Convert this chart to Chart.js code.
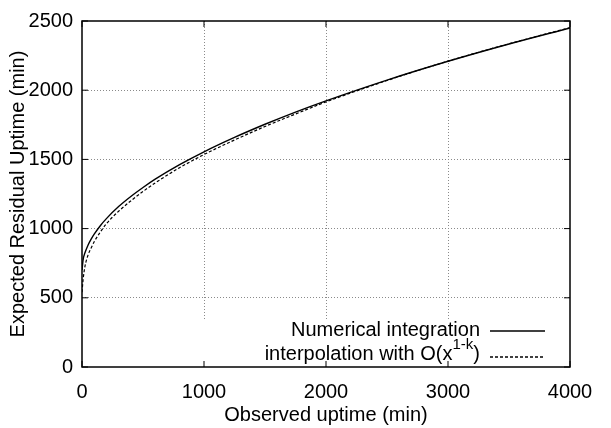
<!DOCTYPE html>
<html>
<head>
<meta charset="utf-8">
<script src="https://cdn.jsdelivr.net/npm/chart.js@4.4.1/dist/chart.umd.min.js"></script>
<style>
  html, body { margin: 0; padding: 0; background: #fff; }
  #wrap { width: 611px; height: 428px; }
</style>
</head>
<body>
<div id="wrap"><canvas id="uptimeChart" width="611" height="428"></canvas></div>
<script>
// observed uptime (min) and expected residual uptime (min) for both curves
const observedUptime = [0, 10, 25, 50, 75, 100, 150, 200, 300, 400, 500, 600, 800, 1000, 1250, 1500, 1750, 2000, 2500, 3000, 3500, 4000];
const numericalIntegration = [700, 779, 827, 882, 924, 960, 1021, 1072, 1159, 1232, 1297, 1357, 1462, 1555, 1659, 1754, 1842, 1923, 2073, 2209, 2334, 2450];
const interpolationFit = [540, 640, 730, 810, 860, 905, 975, 1035, 1125, 1200, 1268, 1330, 1440, 1535, 1640, 1738, 1828, 1915, 2070, 2210, 2335, 2452];

const xRange = [0, 4000];
const yRange = [0, 2500];
const xStep = 1000;
const yStep = 500;

const FONT = "'Liberation Sans', Arial, Helvetica, sans-serif";

function toPoints(xs, ys) {
    return xs.map(function (x, i) { return { x: x, y: ys[i] }; });
}

// gnuplot-style frame: full border, inward ticks, opaque key in the lower right
const framePlugin = {
    id: 'frame',
    beforeDatasetsDraw: function (chart) {
        const ctx = chart.ctx;
        const a = chart.chartArea;
        ctx.save();
        ctx.fillStyle = '#fff';
        ctx.fillRect(190, 321, a.right - 190, a.bottom - 321);
        ctx.restore();
    },
    afterDraw: function (chart) {
        const ctx = chart.ctx;
        const a = chart.chartArea;
        const xs = chart.scales.x;
        const ys = chart.scales.y;
        const tick = 6;

        ctx.save();
        ctx.strokeStyle = '#000';
        ctx.lineWidth = 1.5;
        ctx.strokeRect(a.left, a.top, a.right - a.left, a.bottom - a.top);

        ctx.lineWidth = 1;
        ctx.beginPath();
        xs.ticks.forEach(function (t) {
            const px = xs.getPixelForValue(t.value);
            ctx.moveTo(px, a.bottom); ctx.lineTo(px, a.bottom - tick);
            ctx.moveTo(px, a.top); ctx.lineTo(px, a.top + tick);
        });
        ys.ticks.forEach(function (t) {
            const py = ys.getPixelForValue(t.value);
            ctx.moveTo(a.left, py); ctx.lineTo(a.left + tick, py);
            ctx.moveTo(a.right, py); ctx.lineTo(a.right - tick, py);
        });
        ctx.stroke();

        // key
        const textRight = 480;
        const row1 = 330;
        const row2 = 354;
        ctx.fillStyle = '#000';
        ctx.textBaseline = 'middle';
        ctx.textAlign = 'left';
        ctx.font = '20px ' + FONT;
        const t1 = 'Numerical integration';
        ctx.fillText(t1, textRight - ctx.measureText(t1).width, row1);

        const head = 'interpolation with O(x';
        const tail = ')';
        const sup = '1-k';
        const headW = ctx.measureText(head).width;
        const tailW = ctx.measureText(tail).width;
        ctx.font = '15px ' + FONT;
        const supW = ctx.measureText(sup).width;
        let x = textRight - tailW - supW - headW;
        ctx.font = '20px ' + FONT;
        ctx.fillText(head, x, row2);
        x += headW;
        ctx.font = '15px ' + FONT;
        ctx.fillText(sup, x, row2 - 9);
        x += supW;
        ctx.font = '20px ' + FONT;
        ctx.fillText(tail, x, row2);

        ctx.lineWidth = 1.3;
        ctx.beginPath();
        ctx.moveTo(490, row1 + 1); ctx.lineTo(545, row1 + 1);
        ctx.stroke();
        ctx.setLineDash([3, 2]);
        ctx.beginPath();
        ctx.moveTo(490, row2 + 3); ctx.lineTo(545, row2 + 3);
        ctx.stroke();
        ctx.restore();
    }
};

function hideEdges(ctx) {
    const s = ctx.scale;
    if (ctx.tick && (ctx.tick.value === s.min || ctx.tick.value === s.max)) {
        return 'rgba(0,0,0,0)';
    }
    return '#8a8a8a';
}

function plainNumber(value) {
    return String(value);
}

document.addEventListener('DOMContentLoaded', function () {
    if (typeof Chart === 'undefined') {
        console.error('Chart.js did not load.');
        return;
    }

    Chart.defaults.font.family = FONT;
    Chart.defaults.font.size = 20;
    Chart.defaults.color = '#000';

    new Chart(document.getElementById('uptimeChart'), {
        type: 'scatter',
        data: {
            datasets: [{
                label: 'Numerical integration',
                data: toPoints(observedUptime, numericalIntegration),
                showLine: true,
                borderColor: '#000',
                borderWidth: 1.4,
                pointRadius: 0,
                cubicInterpolationMode: 'monotone'
            }, {
                label: 'interpolation with O(x^{1-k})',
                data: toPoints(observedUptime, interpolationFit),
                showLine: true,
                borderColor: '#000',
                borderWidth: 1.2,
                borderDash: [3, 2],
                pointRadius: 0,
                cubicInterpolationMode: 'monotone'
            }]
        },
        options: {
            responsive: false,
            animation: false,
            layout: { padding: { top: 20, right: 41, left: 0, bottom: 0 } },
            plugins: {
                legend: { display: false },
                tooltip: { enabled: false }
            },
            scales: {
                x: {
                    type: 'linear',
                    min: xRange[0],
                    max: xRange[1],
                    afterFit: function (s) { s.height = 61; },
                    ticks: { stepSize: xStep, padding: 13, maxRotation: 0, callback: plainNumber },
                    grid: { color: hideEdges, lineWidth: 1, drawTicks: false },
                    border: { display: false, dash: [1, 2] },
                    title: {
                        display: true,
                        text: 'Observed uptime (min)',
                        padding: { top: 0, bottom: 1 }
                    }
                },
                y: {
                    type: 'linear',
                    min: yRange[0],
                    max: yRange[1],
                    afterFit: function (s) { s.width = 82; },
                    ticks: { stepSize: yStep, padding: 9, callback: plainNumber },
                    grid: { color: hideEdges, lineWidth: 1, drawTicks: false },
                    border: { display: false, dash: [1, 2] },
                    title: {
                        display: true,
                        text: 'Expected Residual Uptime (min)',
                        padding: { top: 6, bottom: 0 }
                    }
                }
            }
        },
        plugins: [framePlugin]
    });
});
</script>
</body>
</html>
